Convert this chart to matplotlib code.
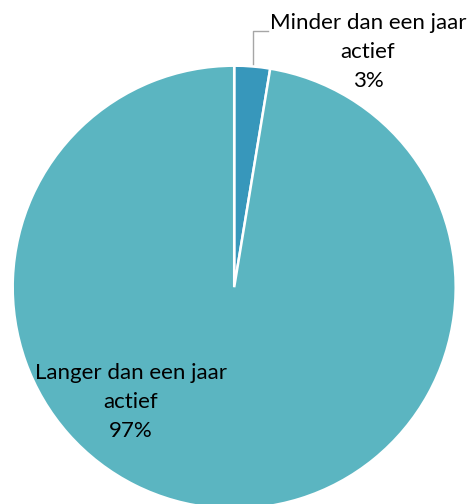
import matplotlib.pyplot as plt

# data
categories = ['Minder dan een jaar\nactief', 'Langer dan een jaar\nactief']
shares = [2.6, 97.4]
colors = ['#3797BB', '#5BB5C1']

W, H = 472, 504
fig = plt.figure(figsize=(W / 100, H / 100), dpi=100)
ax = fig.add_axes([0, 0, 1, 1])
ax.set_xlim(0, W)
ax.set_ylim(0, H)
ax.set_aspect('equal')
ax.axis('off')

#pie in pixel coordinates (y from bottom)
cx, cy, r = 234.2, H - 287.2, 221.5
wedges, _ = ax.pie(shares, colors=colors, startangle=90, counterclock=False,
                   center=(cx, cy), radius=r,
                   wedgeprops=dict(edgecolor='white', linewidth=1.8))
ax.set_xlim(0, W)
ax.set_ylim(0, H)

plt.rcParams['font.family'] = ['Lato', 'DejaVu Sans']
fs = 16

#labels
lab = ['{}\n{:.0f}%'.format(c, s) for c, s in zip(categories, shares)]
ax.text(368, H - 52, lab[0], ha='center', va='center', fontsize=fs,
        linespacing=1.55, color='black')
ax.text(131, H - 402, lab[1], ha='center', va='center', fontsize=fs,
        linespacing=1.55, color='black')

#leader line for small slice
ax.plot([253, 253, 268], [H - 64, H - 31, H - 31], color='#A6A6A6', lw=1.0)

fig.savefig('out.png', dpi=100)
